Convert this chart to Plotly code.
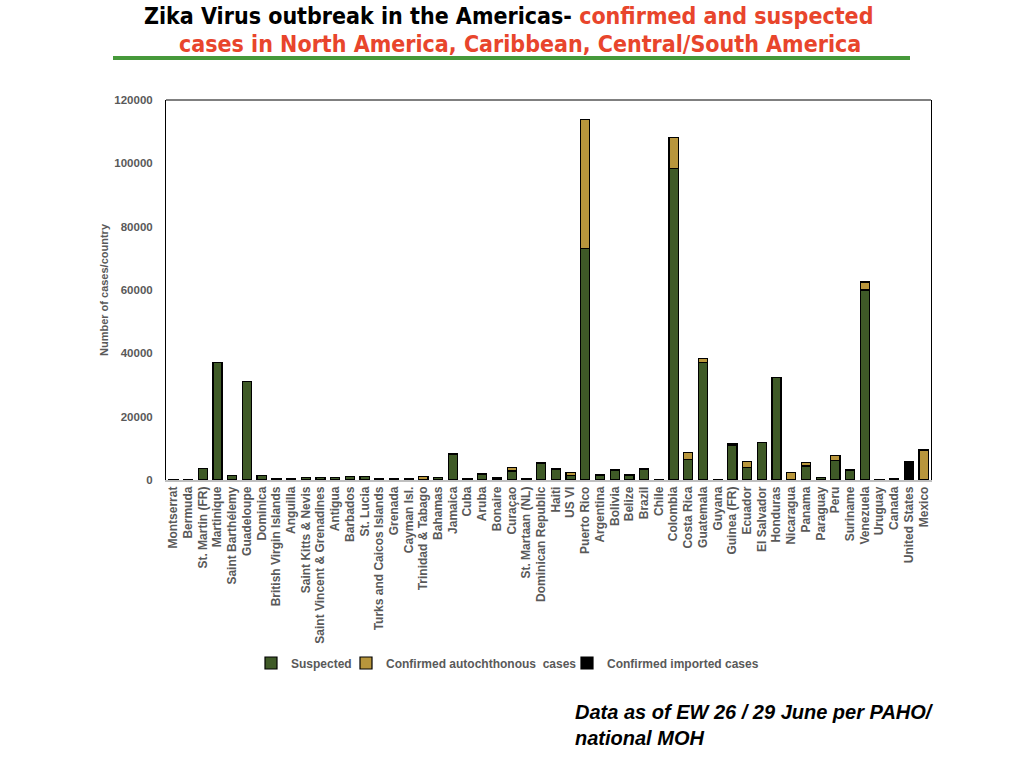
import plotly.graph_objects as go

countries = [
    "Montserrat", "Bermuda", "St. Martin (FR)", "Martinique", "Saint Barthélemy",
    "Guadeloupe", "Dominica", "British Virgin Islands", "Anguilla", "Saint Kitts & Nevis",
    "Saint Vincent & Grenadines", "Antigua", "Barbados", "St. Lucia",
    "Turks and Caicos Islands", "Grenada", "Cayman Isl.", "Trinidad & Tabago", "Bahamas",
    "Jamaica", "Cuba", "Aruba", "Bonaire", "Curaçao", "St. Martaan (NL)",
    "Dominican Republic", "Haiti", "US VI", "Puerto Rico", "Argentina", "Bolivia",
    "Belize", "Brazil", "Chile", "Colombia", "Costa Rica", "Guatemala", "Guyana",
    "Guinea (FR)", "Ecuador", "El Salvador", "Honduras", "Nicaragua", "Panama",
    "Paraguay", "Peru", "Suriname", "Venezuela", "Uruguay", "Canada",
    "United States", "Mexico",
]

suspected = [
    100, 0, 3700, 37100, 1500,
    31200, 1500, 600, 600, 800,
    800, 800, 1100, 1100,
    500, 500, 500, 100, 900,
    8200, 600, 1700, 400, 2850, 600,
    5400, 3500, 1300, 73200, 1600, 2900,
    1600, 3300, 0, 98400, 6600, 37200, 0,
    10900, 4000, 11900, 32400, 0, 4400,
    800, 6200, 3000, 60000, 0, 0,
    0, 0,
]

confirmed_autochthonous = [
    0, 0, 0, 0, 0,
    0, 0, 0, 0, 0,
    0, 0, 0, 0,
    0, 0, 0, 1000, 0,
    0, 0, 400, 500, 1000, 0,
    0, 0, 1000, 40600, 0, 400,
    0, 400, 0, 9800, 2200, 1200, 200,
    0, 1800, 0, 0, 2400, 1200,
    0, 1600, 400, 2500, 0, 0,
    0, 9300,
]

confirmed_imported = [
    0, 100, 0, 0, 0,
    0, 0, 0, 0, 0,
    0, 0, 0, 0,
    0, 0, 0, 0, 0,
    0, 0, 0, 0, 0, 0,
    0, 0, 0, 0, 0, 0,
    0, 0, 200, 0, 0, 0, 0,
    500, 0, 0, 0, 0, 0,
    0, 0, 0, 0, 100, 400,
    5700, 200,
]

y_ticks = [0, 20000, 40000, 60000, 80000, 100000, 120000]

GREY = "#595959"
FONT = "Liberation Sans, Arial, sans-serif"
TITLE_FONT = "Liberation Sans Narrow, DejaVu Sans Condensed, Arial Narrow, sans-serif"

# plot area in page pixels
PL, PR, PT, PB = 166, 931, 100, 480


def px_x(px):
    return (px - PL) / (PR - PL)


def px_y(py):
    return (PB - py) / (PB - PT)


fig = go.Figure()
series = [
    ("Suspected", suspected, "#3f5a27", "legend", 287),
    ("Confirmed autochthonous  cases", confirmed_autochthonous, "#b8963c", "legend2", 382),
    ("Confirmed imported cases", confirmed_imported, "#000000", "legend3", 603),
]
legend_defs = {}
for name, vals, col, lg, text_x in series:
    fig.add_trace(go.Bar(
        x=countries, y=vals, name=name, legend=lg,
        marker=dict(color=col, line=dict(color="#000000", width=1.2)),
    ))
    legend_defs[lg] = dict(
        orientation="h", x=px_x(text_x - 36), xanchor="left",
        y=px_y(663), yanchor="middle",
        font=dict(family=FONT, size=12, color=GREY, weight="bold"),
        itemwidth=30, bgcolor="rgba(0,0,0,0)", borderwidth=0,
    )

fig.update_layout(
    barmode="stack",
    bargap=0.38,
    width=1024, height=768,
    margin=dict(l=PL, r=1024 - PR, t=PT, b=768 - PB),
    plot_bgcolor="white", paper_bgcolor="white",
    font=dict(family=FONT, color=GREY),
    showlegend=True,
    legend=legend_defs["legend"],
    legend2=legend_defs["legend2"],
    legend3=legend_defs["legend3"],
    xaxis=dict(
        tickangle=-90,
        tickfont=dict(family=FONT, size=12, color=GREY, weight="bold"),
        showline=True, linecolor="#c0c0c0", linewidth=1.5,
        ticks="", showgrid=False,
    ),
    yaxis=dict(
        range=[0, 120000],
        tickvals=y_ticks,
        ticktext=[str(v) for v in y_ticks],
        tickfont=dict(family=FONT, size=11.5, color=GREY, weight="bold"),
        ticklabelstandoff=10,
        showline=True, linecolor="#000000", linewidth=1, mirror=True,
        showgrid=False, zeroline=False, ticks="",
        title=dict(text="Number of cases/country",
                   font=dict(family=FONT, size=11, color=GREY, weight="bold"),
                   standoff=3),
    ),
)

# top frame line
fig.add_shape(type="line", xref="paper", yref="paper", x0=0, x1=1, y0=1, y1=1,
              line=dict(color="#000000", width=1))

# title (two lines)
fig.add_annotation(
    xref="paper", yref="paper", x=px_x(508), y=px_y(16), xanchor="center", yanchor="middle",
    showarrow=False,
    text=("<b>Zika Virus outbreak in the Americas- "
          "<span style='color:#e8452c'>confirmed and suspected</span></b>"),
    font=dict(family=TITLE_FONT, size=23, color="#000000"),
)
fig.add_annotation(
    xref="paper", yref="paper", x=px_x(520), y=px_y(44), xanchor="center", yanchor="middle",
    showarrow=False,
    text=("<b>cases in North America, Caribbean, Central/South America</b>"),
    font=dict(family=TITLE_FONT, size=23, color="#e8452c"),
)
# green underline
fig.add_shape(type="line", xref="paper", yref="paper",
              x0=px_x(113), x1=px_x(910), y0=px_y(58), y1=px_y(58),
              line=dict(color="#46993a", width=4))

# footer note
fig.add_annotation(
    xref="paper", yref="paper", x=px_x(573), y=px_y(725),
    xanchor="left", yanchor="middle", showarrow=False, align="left",
    text="<b><i>Data as of EW 26 / 29 June per PAHO/<br>national MOH</i></b>",
    font=dict(family=FONT, size=20, color="#000000"),
)

fig.write_html("out.html", config={"displayModeBar": False},
               post_script="document.body.style.margin='0px';")
